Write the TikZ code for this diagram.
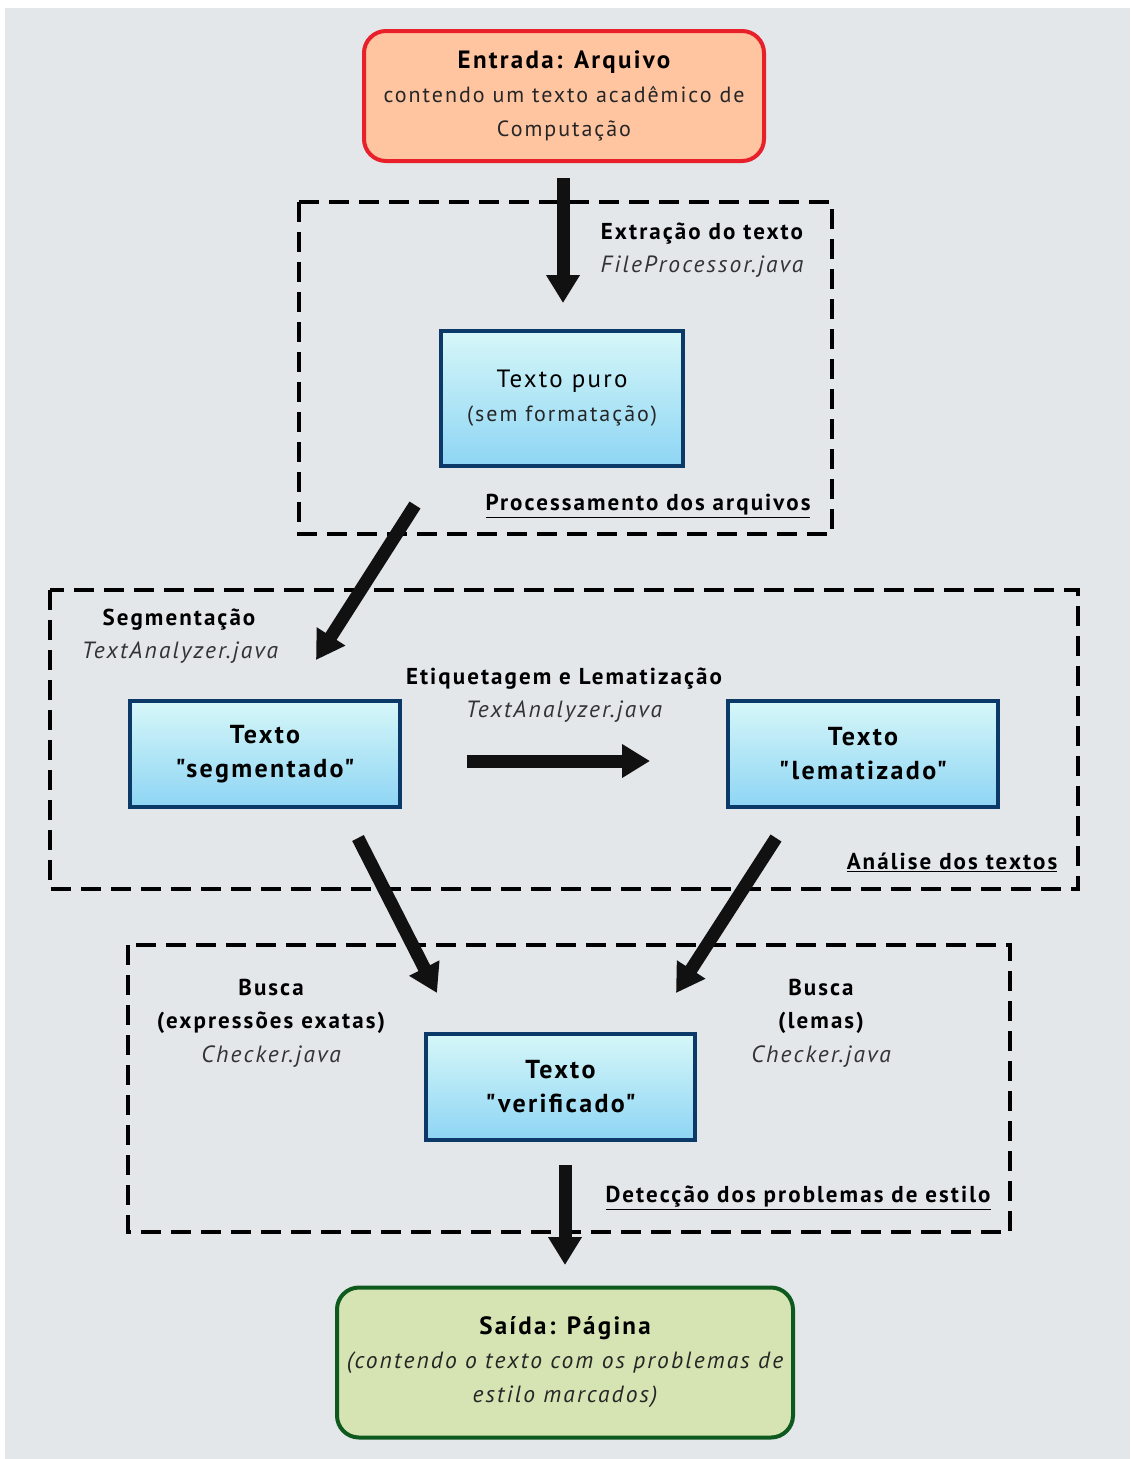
\documentclass[tikz,border=0pt]{standalone}
\usepackage{fontspec}
\setmainfont{PT Sans}[Ligatures=TeXOff, LetterSpace=9]
\usetikzlibrary{arrows.meta}
\definecolor{bgc}{HTML}{E3E7EA}
\definecolor{inred}{HTML}{E8202A}
\definecolor{infill}{HTML}{FFC4A0}
\definecolor{outgreen}{HTML}{0E5A1E}
\definecolor{outfill}{HTML}{D5E4B2}
\definecolor{navy}{HTML}{0C3A68}
\definecolor{gtop}{HTML}{D6F7F8}
\definecolor{gbot}{HTML}{8ED5F4}
\definecolor{arr}{HTML}{111111}
\tikzset{
  txt/.style={align=center, font=\fontsize{22}{34}\selectfont, text=black!85},
  iobox/.style={txt, rounded corners=22pt, line width=4pt},
  procbox/.style={txt, draw=navy, line width=3.5pt, top color=gtop, bottom color=gbot},
  boldbox/.style={procbox, font=\fontsize{26}{34}\selectfont\bfseries, text=black},
  group/.style={draw=black, line width=4pt, dash pattern=on 20pt off 10pt},
  lbl/.style={align=center, yshift=-2pt, font=\fontsize{23}{33}\selectfont\bfseries},
  code/.style={align=center, yshift=-2pt, font=\fontsize{23.5}{33}\selectfont\itshape, text=black!80},
  bigarrow/.style={draw=arr, line width=13pt, -{Triangle[width=32pt,length=28pt]}},
}
\begin{document}
\begin{tikzpicture}[x=1pt,y=-1pt]
\useasboundingbox (0,0) rectangle (1130,1459);
\fill[white] (0,0) rectangle (1130,1459);
\fill[bgc] (5,8) rectangle (1130,1459);

% groups
\draw[group] (299,202) rectangle (832,534);
\draw[group] (50,590) rectangle (1078,889);
\draw[group] (128,945) rectangle (1010,1232);

% boxes
\node[iobox, draw=inred, fill=infill, minimum width=400pt, minimum height=130pt] (entrada) at (564,96)
  {{\fontsize{25}{34}\selectfont\bfseries\color{black} Entrada: Arquivo}\\contendo um texto acadêmico de\\Computação};
\node[procbox, minimum width=242pt, minimum height=135pt] (puro) at (562,398.5)
  {{\fontsize{25}{34}\selectfont\color{black} Texto puro}\\(sem formatação)};
\node[boldbox, minimum width=270pt, minimum height=106pt] (seg) at (265,754)
  {Texto\\"segmentado"};
\node[boldbox, minimum width=270pt, minimum height=106pt] (lem) at (863,754)
  {Texto\\"lematizado"};
\node[boldbox, minimum width=269pt, minimum height=106pt] (ver) at (560.5,1087)
  {Texto\\"verificado"};
\node[iobox, draw=outgreen, fill=outfill, minimum width=456pt, minimum height=150pt] (saida) at (565,1362.5)
  {{\fontsize{25}{34}\selectfont\bfseries\color{black} Saída: Página}\\\fontsize{23.5}{34}\selectfont\itshape (contendo o texto com os problemas de\\\fontsize{23.5}{34}\selectfont\itshape estilo marcados)};

% labels
\node[lbl] (extr) at (702,232) {Extração do texto};
\node[code] (extrc) at (702,265) {FileProcessor.java};
\node[lbl] (proc) at (648,504) {\underline{Processamento dos arquivos}};
\node[lbl] (segl) at (179,618) {Segmentação};
\node[code] (segc) at (180,651) {TextAnalyzer.java};
\node[lbl] (etiq) at (564,677) {Etiquetagem e Lematização};
\node[code] (etiqc) at (564,710) {TextAnalyzer.java};
\node[lbl] (anal) at (952,860) {\underline{Análise dos textos}};
\node[lbl] (busca1) at (271,1004.5) {Busca\\(expressões exatas)};
\node[code] (busca1c) at (271,1055) {Checker.java};
\node[lbl] (busca2) at (821,1004.5) {Busca\\(lemas)};
\node[code] (busca2c) at (821,1055) {Checker.java};
\node[lbl] (det) at (798,1196) {\underline{Detecção dos problemas de estilo}};

% arrow end points
\coordinate (a1s) at (563,178);  \coordinate (a1e) at (563,303);
\coordinate (a2s) at (415,505);  \coordinate (a2e) at (316,660);
\coordinate (a3s) at (467,761);  \coordinate (a3e) at (650,761);
\coordinate (a4s) at (358,838);  \coordinate (a4e) at (437,993);
\coordinate (a5s) at (776,838);  \coordinate (a5e) at (676,993);
\coordinate (a6s) at (565,1165); \coordinate (a6e) at (565,1265);

\draw[bigarrow] (a1s) -- (a1e);
\draw[bigarrow] (a2s) -- (a2e);
\draw[bigarrow] (a3s) -- (a3e);
\draw[bigarrow] (a4s) -- (a4e);
\draw[bigarrow] (a5s) -- (a5e);
\draw[bigarrow] (a6s) -- (a6e);
\end{tikzpicture}
\end{document}
